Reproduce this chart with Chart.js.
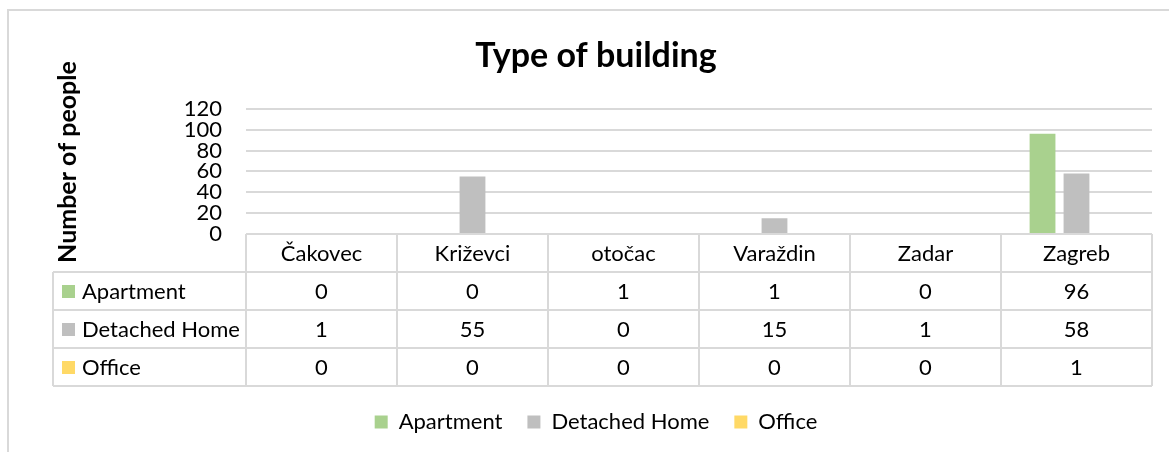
<!DOCTYPE html>
<html>
<head>
<meta charset="utf-8">
<script src="https://cdn.jsdelivr.net/npm/chart.js@4.4.1/dist/chart.umd.min.js"></script>
<style>
  html, body { margin: 0; padding: 0; background: #fff; }
  #wrap { width: 1169px; height: 452px; }
</style>
</head>
<body>
<div id="wrap"><canvas id="chart" width="1169" height="452"></canvas></div>
<script>
// Dane z wykresu
const CITIES = ['Čakovec', 'Križevci', 'otočac', 'Varaždin', 'Zadar', 'Zagreb'];
const APARTMENT = [0, 0, 1, 1, 0, 96];
const DETACHED = [1, 55, 0, 15, 1, 58];
const OFFICE = [0, 0, 0, 0, 0, 1];
const Y_TICKS = [0, 20, 40, 60, 80, 100, 120];

const COLORS = {
    green: '#A9D18E',
    grey: '#BFBFBF',
    yellow: '#FFD966',
    line: '#D9D9D9',
    text: '#000000'
};

const FONT = "Lato, 'Open Sans', sans-serif";
const TEXT_SIZE = 22;
const TABLE_ROW = 38;

// Obramowanie wykresu i tytuł osi Y (obrócony)
const frame = {
    id: 'frame',
    beforeDraw(chart) {
        const ctx = chart.ctx;
        ctx.save();
        ctx.strokeStyle = COLORS.line;
        ctx.lineWidth = 2;
        ctx.beginPath();
        ctx.moveTo(8, chart.height);
        ctx.lineTo(8, 10);
        ctx.lineTo(chart.width, 10);
        ctx.stroke();

        ctx.translate(68, 162);
        ctx.rotate(-Math.PI / 2);
        ctx.fillStyle = COLORS.text;
        ctx.font = 'bold 25px ' + FONT;
        ctx.textAlign = 'center';
        ctx.textBaseline = 'middle';
        ctx.fillText('Number of people', 0, 0);
        ctx.restore();
    }
};

// Tabela danych pod osią X
const dataTable = {
    id: 'dataTable',
    beforeDatasetsDraw(chart) {
        const ctx = chart.ctx;
        const area = chart.chartArea;
        const colW = (area.right - area.left) / CITIES.length;
        const top = area.bottom;
        const labelLeft = 53;
        const nRows = chart.data.datasets.length + 1;

        ctx.save();
        ctx.strokeStyle = COLORS.line;
        ctx.lineWidth = 2;
        ctx.beginPath();
        ctx.moveTo(area.left, top);
        ctx.lineTo(area.right, top);
        for (let r = 1; r <= nRows; r++) {
            ctx.moveTo(labelLeft, top + r * TABLE_ROW);
            ctx.lineTo(area.right, top + r * TABLE_ROW);
        }
        ctx.moveTo(labelLeft, top + TABLE_ROW);
        ctx.lineTo(labelLeft, top + nRows * TABLE_ROW);
        for (let c = 0; c <= CITIES.length; c++) {
            const cx = area.left + c * colW;
            ctx.moveTo(cx, top);
            ctx.lineTo(cx, top + nRows * TABLE_ROW);
        }
        ctx.stroke();
        ctx.restore();
    },
    afterDraw(chart) {
        const ctx = chart.ctx;
        const x = chart.scales.x;
        const top = chart.chartArea.bottom;
        const rows = chart.data.datasets;

        ctx.save();
        ctx.fillStyle = COLORS.text;
        ctx.font = TEXT_SIZE + 'px ' + FONT;
        ctx.textBaseline = 'middle';
        ctx.textAlign = 'center';
        CITIES.forEach((name, i) => {
            ctx.fillText(name, x.getPixelForValue(i), top + TABLE_ROW / 2 + 1);
        });

        rows.forEach((ds, r) => {
            const cy = top + (r + 1) * TABLE_ROW + TABLE_ROW / 2 + 1;
            ctx.fillStyle = ds.backgroundColor;
            ctx.fillRect(62, cy - 7, 13, 13);
            ctx.fillStyle = COLORS.text;
            ctx.textAlign = 'left';
            ctx.fillText(ds.label, 82, cy);
            ctx.textAlign = 'center';
            ds.data.forEach((v, i) => {
                ctx.fillText(String(v), x.getPixelForValue(i), cy);
            });
        });
        ctx.restore();
    }
};

Chart.defaults.font.family = FONT;
Chart.defaults.color = COLORS.text;

const barOpts = { categoryPercentage: 0.675, barPercentage: 0.76 };

new Chart(document.getElementById('chart'), {
    type: 'bar',
    data: {
        labels: CITIES,
        datasets: [
            { label: 'Apartment', data: APARTMENT, backgroundColor: COLORS.green, ...barOpts },
            { label: 'Detached Home', data: DETACHED, backgroundColor: COLORS.grey, ...barOpts },
            { label: 'Office', data: OFFICE, backgroundColor: COLORS.yellow, ...barOpts }
        ]
    },
    options: {
        responsive: false,
        animation: false,
        layout: { padding: { left: 40, right: 17, top: 12, bottom: 9 } },
        plugins: {
            title: {
                display: true,
                text: 'Type of building',
                font: { size: 34, weight: 'bold' },
                color: COLORS.text,
                padding: { top: 24, bottom: 32 }
            },
            legend: {
                position: 'bottom',
                labels: {
                    boxWidth: 13,
                    boxHeight: 13,
                    padding: 25,
                    font: { size: TEXT_SIZE },
                    color: COLORS.text
                }
            },
            tooltip: { enabled: false }
        },
        scales: {
            x: {
                grid: { display: false },
                border: { display: false },
                ticks: { display: false },
                afterFit(scale) { scale.height = TABLE_ROW * 4; }
            },
            y: {
                min: 0,
                max: 120,
                afterBuildTicks(scale) {
                    scale.ticks = Y_TICKS.map(v => ({ value: v }));
                },
                grid: { color: COLORS.line, lineWidth: 2, drawTicks: false },
                border: { display: false },
                ticks: { font: { size: TEXT_SIZE }, padding: 24, color: COLORS.text, autoSkip: false },
                afterFit(scale) { scale.width = 206; }
            }
        }
    },
    plugins: [frame, dataTable]
});
</script>
</body>
</html>
